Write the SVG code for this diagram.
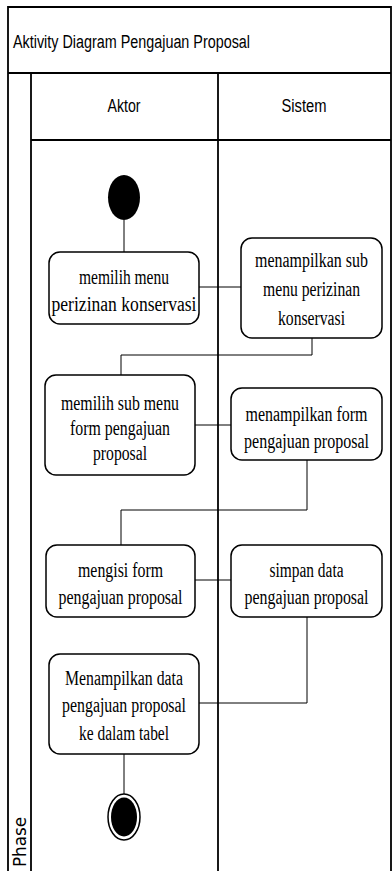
<svg xmlns="http://www.w3.org/2000/svg" width="392" height="871" viewBox="0 0 392 871">
  <style>
    .lane { fill: none; stroke: #000; stroke-width: 1.8; }
    .box { fill: #fff; stroke: #000; stroke-width: 1.5; }
    .edge { fill: none; stroke: #000; stroke-width: 1; }
    .hdr { font-family: "Liberation Sans", Arial, sans-serif; font-size: 18px; fill: #000; }
    .lbl { font-family: "Liberation Serif", "Times New Roman", serif; font-size: 16px; fill: #000; text-anchor: middle; }
  </style>
  <rect width="392" height="871" fill="#fff"/>

  <!-- pool frame and swimlanes -->
  <g id="pool">
    <path class="lane" d="M8,871 V7 H391 V871"/>
    <line class="lane" x1="8" y1="73" x2="391" y2="73"/>
    <line class="lane" x1="31" y1="73" x2="31" y2="871"/>
    <line class="lane" x1="31" y1="140" x2="391" y2="140"/>
    <line class="lane" x1="218" y1="73" x2="218" y2="871"/>
    <text class="hdr" x="13" y="48" textLength="237" lengthAdjust="spacingAndGlyphs">Aktivity Diagram Pengajuan Proposal</text>
    <text class="hdr" x="124" y="112" text-anchor="middle" textLength="33" lengthAdjust="spacingAndGlyphs">Aktor</text>
    <text class="hdr" x="304" y="112" text-anchor="middle" textLength="45" lengthAdjust="spacingAndGlyphs">Sistem</text>
    <text transform="translate(26,867) rotate(-90)" font-family="'DejaVu Sans', Verdana, sans-serif" font-size="17" textLength="50" lengthAdjust="spacingAndGlyphs">Phase</text>
  </g>

  <!-- control flow -->
  <g id="edges">
    <path class="edge" d="M124,220 V252"/>
    <path class="edge" d="M199,287 H241"/>
    <path class="edge" d="M312,338 V355 H121 V375"/>
    <path class="edge" d="M195,425 H231"/>
    <path class="edge" d="M307,460 V510 H121 V545"/>
    <path class="edge" d="M195,580 H231"/>
    <path class="edge" d="M307,617 V703 H199"/>
    <path class="edge" d="M124,754 V794"/>
  </g>

  <g id="start">
    <ellipse cx="124" cy="197.5" rx="16" ry="22.5" fill="#000"/>
  </g>

  <!-- labels are set at 16px and stretched vertically by 1.25 -->
  <g id="a1">
    <rect class="box" x="49" y="252" width="150" height="72" rx="11"/>
    <text class="lbl" transform="translate(124,284) scale(1,1.25)" textLength="90" lengthAdjust="spacingAndGlyphs">memilih menu</text>
    <text class="lbl" transform="translate(124,311) scale(1,1.25)" textLength="145" lengthAdjust="spacingAndGlyphs">perizinan konservasi</text>
  </g>

  <g id="s1">
    <rect class="box" x="241" y="238" width="141" height="100" rx="11"/>
    <text class="lbl" transform="translate(311.5,267) scale(1,1.25)" textLength="113" lengthAdjust="spacingAndGlyphs">menampilkan sub</text>
    <text class="lbl" transform="translate(311.5,296) scale(1,1.25)" textLength="97" lengthAdjust="spacingAndGlyphs">menu perizinan</text>
    <text class="lbl" transform="translate(311.5,325) scale(1,1.25)" textLength="67" lengthAdjust="spacingAndGlyphs">konservasi</text>
  </g>

  <g id="a2">
    <rect class="box" x="45" y="375" width="150" height="100" rx="11"/>
    <text class="lbl" transform="translate(120,410) scale(1,1.25)" textLength="118" lengthAdjust="spacingAndGlyphs">memilih sub menu</text>
    <text class="lbl" transform="translate(120,435) scale(1,1.25)" textLength="100" lengthAdjust="spacingAndGlyphs">form pengajuan</text>
    <text class="lbl" transform="translate(120,460) scale(1,1.25)" textLength="54" lengthAdjust="spacingAndGlyphs">proposal</text>
  </g>

  <g id="s2">
    <rect class="box" x="231" y="388" width="151" height="72" rx="11"/>
    <text class="lbl" transform="translate(306.5,421) scale(1,1.25)" textLength="122" lengthAdjust="spacingAndGlyphs">menampilkan form</text>
    <text class="lbl" transform="translate(306.5,448) scale(1,1.25)" textLength="125" lengthAdjust="spacingAndGlyphs">pengajuan proposal</text>
  </g>

  <g id="a3">
    <rect class="box" x="46" y="545" width="149" height="72" rx="11"/>
    <text class="lbl" transform="translate(120.5,577) scale(1,1.25)" textLength="85" lengthAdjust="spacingAndGlyphs">mengisi form</text>
    <text class="lbl" transform="translate(120.5,604) scale(1,1.25)" textLength="124" lengthAdjust="spacingAndGlyphs">pengajuan proposal</text>
  </g>

  <g id="s3">
    <rect class="box" x="231" y="545" width="151" height="72" rx="11"/>
    <text class="lbl" transform="translate(306.5,577) scale(1,1.25)" textLength="74" lengthAdjust="spacingAndGlyphs">simpan data</text>
    <text class="lbl" transform="translate(306.5,604) scale(1,1.25)" textLength="124" lengthAdjust="spacingAndGlyphs">pengajuan proposal</text>
  </g>

  <g id="a4">
    <rect class="box" x="49" y="654" width="150" height="100" rx="11"/>
    <text class="lbl" transform="translate(124,685) scale(1,1.25)" textLength="118" lengthAdjust="spacingAndGlyphs">Menampilkan data</text>
    <text class="lbl" transform="translate(124,712) scale(1,1.25)" textLength="124" lengthAdjust="spacingAndGlyphs">pengajuan proposal</text>
    <text class="lbl" transform="translate(124,740) scale(1,1.25)" textLength="90" lengthAdjust="spacingAndGlyphs">ke dalam tabel</text>
  </g>

  <g id="end">
    <ellipse cx="124" cy="817" rx="16" ry="23" fill="#fff" stroke="#000" stroke-width="1.5"/>
    <ellipse cx="124" cy="817" rx="13" ry="19.5" fill="#000"/>
  </g>
</svg>
